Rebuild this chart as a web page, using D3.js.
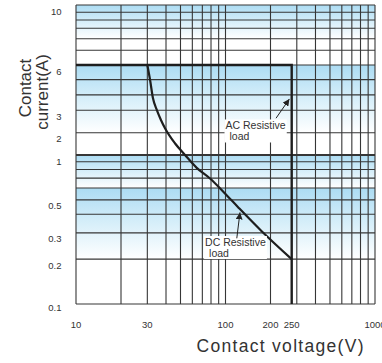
<!DOCTYPE html>
<html>
<head>
<meta charset="utf-8">
<script src="https://cdn.jsdelivr.net/npm/d3@7"></script>
<style>
  body { margin: 0; background: #fff; }
  svg { display: block; font-family: "Liberation Sans", Arial, sans-serif; }
</style>
</head>
<body>
<div id="chart"></div>
<script>

// AC resistive load envelope
const acVoltage = [10, 250, 250];
const acCurrent = [6, 6, 0.1];

// DC resistive load curve
const dcVoltage = [30, 31.3, 32.7, 34.8, 37.0, 39.4, 45.9, 53.6, 64.2, 78.8, 97.7, 121.8, 174.6, 250];
const dcCurrent = [6, 4.77, 3.62, 3.0, 2.52, 2.17, 1.44, 1.0, 0.82, 0.696, 0.561, 0.445, 0.308, 0.2];

// tick labels
const xTicks = [10, 30, 100, 200, 250, 1000];
const xTickLabels = ['10', '30', '100', '200', '250', '1000'];
const yTicks = [0.1, 0.2, 0.3, 0.5, 1, 2, 3, 6, 10];
const yTickLabels = ['0.1', '0.2', '0.3', '0.5', '1', '2', '3', '6', '10'];

// grid lines as printed on the sheet
const xGrid = [10, 20, 30, 40, 50, 60, 70, 80, 90, 100, 200, 300, 400, 500, 600, 700, 800, 900, 1000];
const yGrid = [0.1, 0.2, 0.3, 0.4, 0.5, 0.6, 0.7, 0.8, 0.9, 1, 2, 3, 3.8, 4.8, 6, 6.8, 7.5, 8.2, 8.8, 9.4, 10];

// blue shaded bands (top / bottom current)
const bandTop = [10, 6, 1, 0.6];
const bandBottom = [7.5, 2, 0.6, 0.2];

// annotations
const annoText = ['AC Resistive', 'DC Resistive'];
const annoV = [100, 73];
const annoA = [2.12, 0.245];
const arrowFromV = [212, 119];
const arrowFromA = [2.6, 0.276];
const arrowToV = [244, 125];
const arrowToA = [3.57, 0.412];

const width = 382, height = 363;

// the printed sheet is not quite a true log grid, so the scales are piecewise log
let x = d3.scaleLog()
    .domain([10, 200, 250, 300, 1000])
    .range([76, 270.5, 291.7, 296.8, 375]);

let y = d3.scaleLog()
    .domain([0.1, 1, 2, 3, 6, 10])
    .range([304, 155, 132.7, 110.3, 65, 5]);

let svg = d3.select('#chart').append('svg')
    .attr('width', width)
    .attr('height', height);

let defs = svg.append('defs');

let grad = defs.append('linearGradient')
    .attr('id', 'band')
    .attr('x1', 0).attr('y1', 0)
    .attr('x2', 0).attr('y2', 1);
grad.append('stop').attr('offset', 0).attr('stop-color', '#acdcf3');
grad.append('stop').attr('offset', 0.45).attr('stop-color', '#d3edf9');
grad.append('stop').attr('offset', 1).attr('stop-color', '#ffffff');

defs.append('marker')
    .attr('id', 'head')
    .attr('viewBox', '0 0 10 10')
    .attr('refX', 10).attr('refY', 5)
    .attr('markerWidth', 7).attr('markerHeight', 7)
    .attr('markerUnits', 'userSpaceOnUse')
    .attr('orient', 'auto')
    .append('path')
    .attr('d', 'M0,0 L10,5 L0,10 z')
    .attr('fill', '#222');

let x0 = x.range()[0], x1 = x.range()[x.range().length - 1];
let yTop = y.range()[y.range().length - 1], yBot = y.range()[0];

// bands
svg.append('g').selectAll('rect')
    .data(bandTop)
    .enter().append('rect')
    .attr('x', x0)
    .attr('width', x1 - x0)
    .attr('y', d => y(d))
    .attr('height', (d, i) => y(bandBottom[i]) - y(d))
    .attr('fill', 'url(#band)');

// grid
let grid = svg.append('g')
    .attr('stroke', '#363636')
    .attr('stroke-width', 1.1);

grid.selectAll('.vline')
    .data(xGrid)
    .enter().append('line')
    .attr('class', 'vline')
    .attr('x1', d => x(d)).attr('x2', d => x(d))
    .attr('y1', yTop).attr('y2', yBot);

grid.selectAll('.hline')
    .data(yGrid)
    .enter().append('line')
    .attr('class', 'hline')
    .attr('x1', x0).attr('x2', x1)
    .attr('y1', d => y(d)).attr('y2', d => y(d))
    .attr('stroke-width', d => (d == 1 ? 2 : 1.1));

// tick labels
svg.append('g').selectAll('text')
    .data(xTicks)
    .enter().append('text')
    .attr('x', d => x(d))
    .attr('y', 327.5)
    .attr('text-anchor', 'middle')
    .attr('font-size', '9.5px')
    .attr('fill', '#333')
    .text((d, i) => xTickLabels[i]);

svg.append('g').selectAll('text')
    .data(yTicks)
    .enter().append('text')
    .attr('x', 61.5)
    .attr('y', d => Math.min(y(d) + 9.5, 311))
    .attr('text-anchor', 'end')
    .attr('font-size', '9.5px')
    .attr('fill', '#333')
    .text((d, i) => yTickLabels[i]);

// curves
let line = d3.line()
    .x(d => x(d[0]))
    .y(d => y(d[1]));

svg.append('path')
    .datum(acVoltage.map((v, i) => [v, acCurrent[i]]))
    .attr('d', line)
    .attr('fill', 'none')
    .attr('stroke', '#1e1e1e')
    .attr('stroke-width', 2.4);

svg.append('path')
    .datum(dcVoltage.map((v, i) => [v, dcCurrent[i]]))
    .attr('d', line.curve(d3.curveMonotoneX))
    .attr('fill', 'none')
    .attr('stroke', '#1e1e1e')
    .attr('stroke-width', 2.2);

// annotations
annoText.forEach(function(t, i) {
    let g = svg.append('g');
    let bg = g.append('rect').attr('fill', '#fff');
    let txt = g.append('text')
        .attr('x', x(annoV[i]))
        .attr('y', y(annoA[i]))
        .attr('font-size', '10.5px')
        .attr('fill', '#333');
    txt.append('tspan').text(t);
    txt.append('tspan')
        .attr('x', x(annoV[i]) + 4)
        .attr('dy', 11)
        .text('load');
    let bb = txt.node().getBBox();
    bg.attr('x', bb.x - 1).attr('y', bb.y)
      .attr('width', bb.width + 2).attr('height', bb.height);

    svg.append('line')
        .attr('x1', x(arrowFromV[i])).attr('y1', y(arrowFromA[i]))
        .attr('x2', x(arrowToV[i])).attr('y2', y(arrowToA[i]))
        .attr('stroke', '#222')
        .attr('stroke-width', 1)
        .attr('marker-end', 'url(#head)');
});

// axis titles
svg.append('text')
    .attr('x', 196.5)
    .attr('y', 352)
    .attr('font-size', '17.5px')
    .attr('letter-spacing', '1.3px')
    .attr('fill', '#333')
    .text('Contact voltage(V)');

let yTitle = svg.append('text')
    .attr('transform', 'translate(31,88) rotate(-90)')
    .attr('text-anchor', 'middle')
    .attr('font-size', '17px')
    .attr('fill', '#333');
yTitle.append('tspan').attr('x', 0).text('Contact');
yTitle.append('tspan').attr('x', -4).attr('dy', 17).text('current(A)');

</script>
</body>
</html>
